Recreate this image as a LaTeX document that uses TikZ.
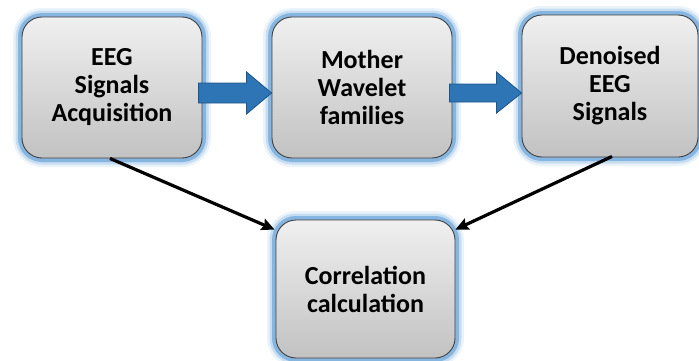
\documentclass[tikz,border=0pt]{standalone}
\usepackage{fontspec}
\setmainfont{Carlito}
\usetikzlibrary{calc,arrows.meta}
\definecolor{glowblue}{RGB}{91,155,213}
\definecolor{arrowblue}{RGB}{46,117,182}
\definecolor{arrowedge}{RGB}{30,85,135}
\tikzset{
  boxnode/.style={rounded corners=20pt, draw=black!75, line width=0.9pt,
    top color=black!6, bottom color=black!24, inner sep=0pt, align=center,
    font=\fontsize{26}{28}\selectfont\bfseries,
    preaction={draw=glowblue, line width=18pt, opacity=0.12},
    preaction={draw=glowblue, line width=13pt, opacity=0.25},
    preaction={draw=glowblue, line width=8pt, opacity=0.6}},
  bluearrow/.style={fill=arrowblue, draw=arrowedge, line width=0.8pt, line join=miter},
  blackarrow/.style={draw=black, line width=3.2pt, -{Stealth[length=13pt,width=12pt,inset=2pt]}}
}
\begin{document}
\begin{tikzpicture}[x=1pt,y=1pt]
\useasboundingbox (0,0) rectangle (699,360);
\node[boxnode, minimum width=180pt, minimum height=141pt] (a) at (112,272.5) {EEG\\Signals\\Acquisition};
\node[boxnode, minimum width=180pt, minimum height=141pt] (b) at (362,272.5) {Mother\\Wavelet\\families};
\node[boxnode, minimum width=176pt, minimum height=142pt] (c) at (610,274) {Denoised\\EEG\\Signals};
\node[boxnode, minimum width=179pt, minimum height=138pt] (d) at (365.5,71) {Correlation\\calculation};
% blue arrows
\coordinate (t1) at ($(b.west)+(0,-5.5)$);
\draw[bluearrow] ($(a.east |- t1)+(-4,10)$) -- ($(t1)+(-25,10)$) -- ($(t1)+(-25,21)$) -- (t1)
  -- ($(t1)+(-25,-21)$) -- ($(t1)+(-25,-10)$) -- ($(a.east |- t1)+(-4,-10)$) -- cycle;
\coordinate (t2) at ($(c.west)+(0,-7)$);
\draw[bluearrow] ($(b.east |- t2)+(-3,9)$) -- ($(t2)+(-25,9)$) -- ($(t2)+(-25,21)$) -- (t2)
  -- ($(t2)+(-25,-20)$) -- ($(t2)+(-25,-9)$) -- ($(b.east |- t2)+(-3,-9)$) -- cycle;
% black arrows
\draw[blackarrow] ($(a.south)+(-2,0)$) -- ($(d.north west)+(-1,-10)$);
\draw[blackarrow] ($(c.south)+(2,1)$) -- ($(d.north east)+(0,-10)$);
\end{tikzpicture}
\end{document}
